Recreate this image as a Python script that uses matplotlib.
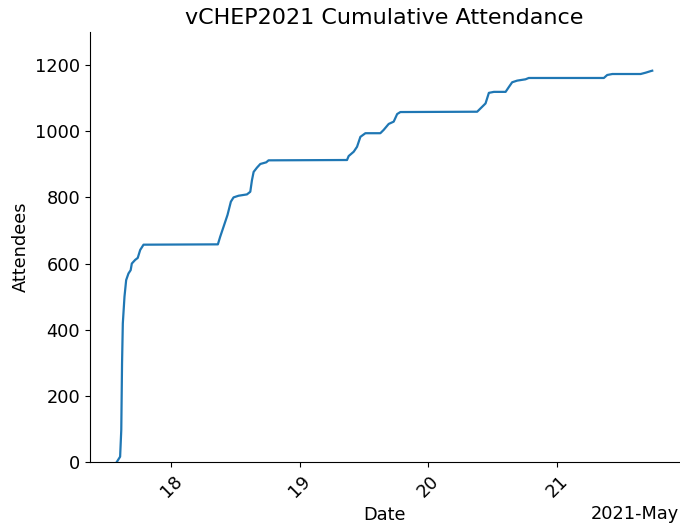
import matplotlib
matplotlib.use("Agg")
import matplotlib.dates as mdates
import matplotlib.pyplot as plt
import pandas as pd

# day of May 2021 (fractional) and cumulative attendee count
day = [
    17.577, 17.603, 17.612, 17.618, 17.624, 17.637, 17.650, 17.668, 17.685, 17.694,
    17.720, 17.740, 17.759, 17.785, 18.363, 18.381, 18.407, 18.438, 18.464, 18.485,
    18.524, 18.589, 18.615, 18.628, 18.641, 18.667, 18.693, 18.739, 18.757, 19.367,
    19.380, 19.419, 19.445, 19.471, 19.510, 19.626, 19.652, 19.691, 19.730, 19.757,
    19.782, 20.379, 20.418, 20.444, 20.470, 20.509, 20.600, 20.626, 20.651, 20.690,
    20.755, 20.780, 21.364, 21.390, 21.430, 21.650, 21.689, 21.730, 21.740,
]
attendees = [
    0, 16, 97, 298, 419, 500, 550, 570, 580, 600,
    611, 617, 641, 657, 658, 681, 711, 747, 787, 800,
    805, 809, 817, 852, 877, 890, 901, 906, 912, 913,
    925, 938, 953, 983, 994, 994, 1004, 1022, 1029, 1052,
    1058, 1059, 1074, 1084, 1116, 1119, 1119, 1134, 1148, 1153,
    1157, 1161, 1161, 1170, 1173, 1173, 1177, 1182, 1183,
]

times = pd.Timestamp("2021-05-01") + pd.to_timedelta([d - 1 for d in day], unit="D")

fig = plt.figure(figsize=(6.8, 5.25), dpi=100)
ax = fig.add_axes([90 / 680, 63 / 525, 589 / 680, 430 / 525])

ax.plot(times, attendees, color="#1f77b4", linewidth=1.6)

locator = mdates.DayLocator()
ax.xaxis.set_major_locator(locator)
ax.xaxis.set_major_formatter(mdates.ConciseDateFormatter(locator))
ax.set_ylim(0, 1300)

ax.set_title("vCHEP2021 Cumulative Attendance", fontsize=16)
ax.set_xlabel("Date", fontsize=12.8)
ax.set_ylabel("Attendees", fontsize=12.8)
ax.tick_params(labelsize=12.8)
ax.xaxis.get_offset_text().set_fontsize(12.8)
for label in ax.get_xticklabels():
    label.set_rotation(45)

ax.spines["top"].set_visible(False)
ax.spines["right"].set_visible(False)

fig.savefig("out.png", dpi=100)
